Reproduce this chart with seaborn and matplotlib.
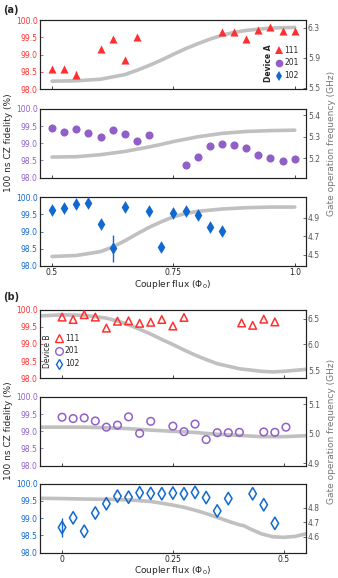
import numpy as np
import pandas as pd
import matplotlib
matplotlib.use('Agg')
import matplotlib.pyplot as plt
from matplotlib.lines import Line2D
import seaborn as sns

# ---- data ----
# device A
a_111_x = [0.5, 0.525, 0.55, 0.6, 0.625, 0.65, 0.675, 0.85, 0.875, 0.9, 0.925, 0.95, 0.975, 1.0]
a_111_y = [98.59, 98.58, 98.42, 99.17, 99.46, 98.83, 99.50, 99.65, 99.66, 99.44, 99.71, 99.80, 99.70, 99.70]
a_111_err = [0, 0, 0.09, 0, 0, 0, 0, 0, 0, 0, 0, 0, 0, 0]

a_201_x = [0.5, 0.525, 0.55, 0.575, 0.6, 0.625, 0.65, 0.675, 0.7,
           0.775, 0.8, 0.825, 0.85, 0.875, 0.9, 0.925, 0.95, 0.975, 1.0]
a_201_y = [99.44, 99.34, 99.42, 99.29, 99.17, 99.39, 99.28, 99.08, 99.23,
           98.37, 98.60, 98.93, 98.99, 98.96, 98.87, 98.67, 98.58, 98.49, 98.53]

a_102_x = [0.5, 0.525, 0.55, 0.575, 0.6, 0.625, 0.65, 0.7, 0.725, 0.75, 0.775, 0.8, 0.825, 0.85]
a_102_y = [99.64, 99.70, 99.81, 99.83, 99.22, 98.51, 99.71, 99.61, 98.55, 99.54, 99.59, 99.47, 99.12, 99.01]
a_102_err = [0, 0, 0, 0.06, 0, 0.40, 0, 0, 0, 0, 0, 0, 0, 0]

# gate frequency curves (GHz)
a_111_fx = [0.5, 0.55, 0.6, 0.65, 0.675, 0.7, 0.725, 0.75, 0.775, 0.8, 0.825, 0.85, 0.875, 0.9, 0.95, 1.0]
a_111_freq = [5.585, 5.590, 5.611, 5.673, 5.730, 5.795, 5.866, 5.944, 6.019, 6.085, 6.146, 6.198,
              6.238, 6.264, 6.295, 6.304]
a_201_fx = [0.5, 0.55, 0.6, 0.65, 0.7, 0.725, 0.75, 0.8, 0.85, 0.9, 0.95, 1.0]
a_201_freq = [5.206, 5.2075, 5.217, 5.232, 5.253, 5.265, 5.278, 5.300, 5.316, 5.325, 5.329, 5.331]
a_102_fx = [0.5, 0.55, 0.6, 0.625, 0.65, 0.675, 0.7, 0.725, 0.75, 0.775, 0.8, 0.85, 0.9, 0.95, 1.0]
a_102_freq = [4.482, 4.493, 4.535, 4.584, 4.651, 4.725, 4.796, 4.856, 4.909, 4.944, 4.968, 4.993,
              5.007, 5.014, 5.014]

# device B
b_111_x = [0, 0.025, 0.05, 0.075, 0.1, 0.125, 0.15, 0.175, 0.2, 0.225, 0.25, 0.275,
           0.405, 0.43, 0.455, 0.48]
b_111_y = [99.78, 99.71, 99.85, 99.78, 99.46, 99.66, 99.67, 99.60, 99.63, 99.71, 99.52, 99.77,
           99.61, 99.54, 99.72, 99.64]

b_201_x = [0, 0.025, 0.05, 0.075, 0.1, 0.125, 0.15, 0.175, 0.2, 0.25, 0.275, 0.3,
           0.325, 0.35, 0.375, 0.4, 0.455, 0.48, 0.505]
b_201_y = [99.41, 99.37, 99.39, 99.30, 99.12, 99.18, 99.42, 98.94, 99.29, 99.15, 98.99, 99.21,
           98.76, 98.96, 98.96, 98.97, 98.98, 98.97, 99.12]

b_102_x = [0, 0.025, 0.05, 0.075, 0.1, 0.125, 0.15, 0.175, 0.2, 0.225, 0.25, 0.275, 0.3,
           0.325, 0.35, 0.375, 0.43, 0.455, 0.48]
b_102_y = [98.73, 99.01, 98.62, 99.15, 99.42, 99.64, 99.61, 99.74, 99.72, 99.71, 99.73, 99.71, 99.75,
           99.60, 99.21, 99.57, 99.71, 99.39, 98.85]
b_102_err = [0.27] + [0] * 18

b_111_fx = [-0.05, 0.0, 0.05, 0.1, 0.125, 0.15, 0.175, 0.2, 0.225, 0.25, 0.275, 0.3, 0.325, 0.35,
            0.4, 0.45, 0.475, 0.5, 0.55]
b_111_freq = [6.556, 6.575, 6.568, 6.512, 6.457, 6.382, 6.295, 6.202, 6.097, 5.998, 5.892, 5.793,
              5.706, 5.625, 5.526, 5.476, 5.464, 5.476, 5.514]
b_201_fx = [-0.05, 0.0, 0.05, 0.1, 0.15, 0.2, 0.25, 0.3, 0.35, 0.4, 0.45, 0.5, 0.55]
b_201_freq = [5.022, 5.022, 5.022, 5.020, 5.017, 5.012, 5.008, 5.004, 4.998, 4.994, 4.990, 4.990, 4.993]
b_102_fx = [-0.05, 0.0, 0.05, 0.1, 0.15, 0.2, 0.225, 0.25, 0.275, 0.3, 0.325, 0.35, 0.375, 0.4,
            0.41, 0.425, 0.45, 0.475, 0.5, 0.525, 0.55]
b_102_freq = [4.864, 4.862, 4.859, 4.857, 4.853, 4.842, 4.830, 4.817, 4.802, 4.782, 4.759, 4.733,
              4.706, 4.681, 4.675, 4.652, 4.619, 4.599, 4.595, 4.601, 4.619]

labels = ['111', '201', '102']
colors = ['#ff3030', '#9060c8', '#1068d0']
markers = ['^', 'o', 'd']

sns.set_style('ticks')
plt.rcParams['font.family'] = ['DejaVu Sans']
plt.rcParams['xtick.direction'] = 'in'
plt.rcParams['ytick.direction'] = 'in'
plt.rcParams['axes.linewidth'] = 0.8

fig = plt.figure(figsize=(3.38, 5.78), dpi=100)

left, width, height = 0.118, 0.787, 0.119
bottoms = [0.846, 0.6926, 0.5398, 0.3455, 0.1943, 0.044]


def draw_panel(pos, x, y, yerr, cx, cy, color, marker, filled,
               rlim, rticks, xlim, xticks, xticklabels, show_x):
    ax = fig.add_axes([left, bottoms[pos], width, height])
    ax2 = ax.twinx()
    # frequency curve, behind the markers
    sns.lineplot(x=cx, y=cy, ax=ax2, color='#c0c0c0', lw=2.6, sort=False)
    ax2.set_ylim(*rlim)
    ax2.set_yticks(rticks)
    ax2.set_yticklabels([f'{t:.1f}' for t in rticks])
    ax2.tick_params(axis='y', labelsize=5.5, colors='#555555', length=2.5, width=0.6, pad=1.5)
    ax2.set_ylabel('')
    ax.set_zorder(ax2.get_zorder() + 1)
    ax.patch.set_visible(False)

    df = pd.DataFrame({'x': x, 'y': y})
    if filled:
        sns.scatterplot(data=df, x='x', y='y', ax=ax, marker=marker, color=color,
                        s=34 if marker != 'd' else 42, linewidth=0, zorder=3)
    else:
        sns.scatterplot(data=df, x='x', y='y', ax=ax, marker=marker, facecolor='none',
                        edgecolor=color, s=30 if marker != 'd' else 40, linewidth=1.1, zorder=3)
    if yerr is not None:
        yerr = np.array(yerr)
        m = yerr > 0
        ax.errorbar(np.array(x)[m], np.array(y)[m], yerr=yerr[m], fmt='none',
                    ecolor=color, elinewidth=1.0, capsize=0, zorder=2)

    ax.set_xlim(*xlim)
    ax.set_ylim(98.0, 100.0)
    ax.set_yticks([98.0, 98.5, 99.0, 99.5, 100.0])
    ax.set_yticklabels(['98.0', '98.5', '99.0', '99.5', '100.0'])
    ax.set_xticks(xticks)
    ax.tick_params(axis='y', labelsize=5.5, colors=color, length=2.5, width=0.6, pad=1.5)
    ax.tick_params(axis='x', labelsize=5.5, length=2.5, width=0.6, labelcolor='#222222', pad=1.5)
    if show_x:
        ax.set_xticklabels(xticklabels)
        ax.set_xlabel(r'Coupler flux ($\Phi_0$)', fontsize=6.5, labelpad=0.5)
    else:
        ax.set_xticklabels([])
        ax.set_xlabel('')
    ax.set_ylabel('')
    for sp in ax.spines.values():
        sp.set_visible(True)
        sp.set_color('#222222')
    return ax


a_ser = [(a_111_x, a_111_y, a_111_err, a_111_fx, a_111_freq),
         (a_201_x, a_201_y, None, a_201_fx, a_201_freq),
         (a_102_x, a_102_y, a_102_err, a_102_fx, a_102_freq)]
a_rlim = [(5.48, 6.40), (5.11, 5.43), (4.38, 5.12)]
a_rticks = [[5.5, 5.9, 6.3], [5.2, 5.3, 5.4], [4.5, 4.7, 4.9]]

b_ser = [(b_111_x, b_111_y, None, b_111_fx, b_111_freq),
         (b_201_x, b_201_y, None, b_201_fx, b_201_freq),
         (b_102_x, b_102_y, b_102_err, b_102_fx, b_102_freq)]
b_rlim = [(5.34, 6.68), (4.892, 5.124), (4.49, 4.964)]
b_rticks = [[5.5, 6.0, 6.5], [4.9, 5.0, 5.1], [4.6, 4.7, 4.8]]

a_axes, b_axes = [], []
for i in range(3):
    x, y, e, fx, f = a_ser[i]
    a_axes.append(draw_panel(i, x, y, e, fx, f, colors[i], markers[i], True,
                             a_rlim[i], a_rticks[i], (0.475, 1.023),
                             [0.5, 0.75, 1.0], ['0.5', '0.75', '1.0'], i == 2))
for i in range(3):
    x, y, e, fx, f = b_ser[i]
    b_axes.append(draw_panel(3 + i, x, y, e, fx, f, colors[i], markers[i], False,
                             b_rlim[i], b_rticks[i], (-0.05, 0.55),
                             [0, 0.25, 0.5], ['0', '0.25', '0.5'], i == 2))

# legends
hA = [Line2D([], [], ls='none', marker=markers[i], color=colors[i], ms=5.5, mew=0) for i in range(3)]
a_axes[0].legend(hA, labels, loc='lower left', bbox_to_anchor=(0.87, 0.06),
                 frameon=False, fontsize=5.5, handlelength=0.8, handletextpad=0.3,
                 labelspacing=0.5, borderpad=0.1)
a_axes[0].text(0.86, 0.38, 'Device A', transform=a_axes[0].transAxes, rotation=90,
               fontsize=5.5, fontweight='bold', ha='center', va='center')

hB = [Line2D([], [], ls='none', marker=markers[i], mfc='none', mec=colors[i], ms=5.5, mew=1.0)
      for i in range(3)]
b_axes[0].legend(hB, labels, loc='lower left', bbox_to_anchor=(0.045, 0.08),
                 frameon=False, fontsize=5.5, handlelength=0.8, handletextpad=0.3,
                 labelspacing=0.5, borderpad=0.1)
b_axes[0].text(0.03, 0.40, 'Device B', transform=b_axes[0].transAxes, rotation=90,
               fontsize=5.5, ha='center', va='center')

# shared labels
fig.text(3 / 338, 1 - 10 / 578, '(a)', fontsize=7, fontweight='bold', va='center')
fig.text(3 / 338, 1 - 297 / 578, '(b)', fontsize=7, fontweight='bold', va='center')
for yc in [1 - 143 / 578, 1 - 431 / 578]:
    fig.text(9 / 338, yc, '100 ns CZ fidelity (%)', rotation=90, fontsize=6.5,
             ha='center', va='center')
    fig.text(331 / 338, yc, 'Gate operation frequency (GHz)', rotation=90, fontsize=6.5,
             ha='center', va='center', color='#777777')

fig.savefig('out.png', dpi=100)
